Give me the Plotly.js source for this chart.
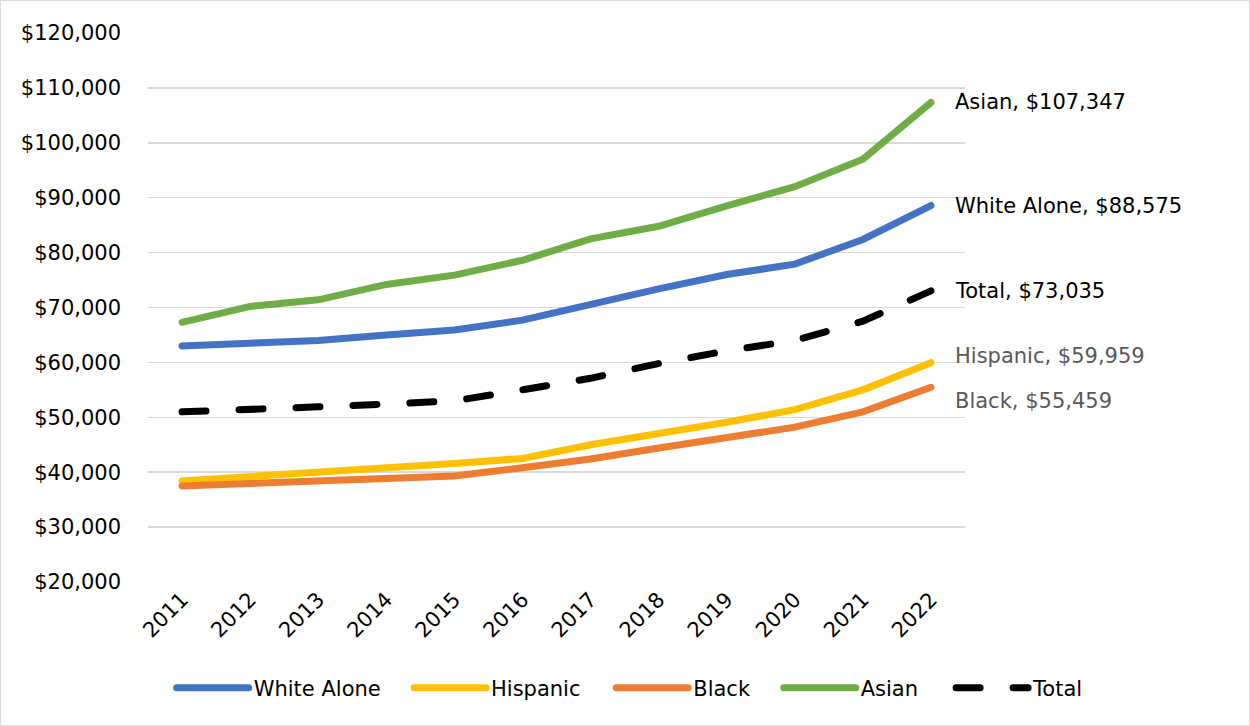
<!DOCTYPE html>
<html>
<head>
<meta charset="utf-8">
<script src="https://cdn.plot.ly/plotly-3.0.1.min.js"></script>
<style>
  html, body { margin: 0; padding: 0; background: #fff; }
  #wrap { position: relative; width: 1250px; height: 726px; }
  #frame { position: absolute; left: 0; top: 0; width: 1248px; height: 724px;
           border: 1px solid #d9d9d9; pointer-events: none; }
  .scatterlayer .js-line, .legendlines path { stroke-linecap: round; }
</style>
</head>
<body>
<div id="wrap">
  <div id="chart"></div>
  <div id="frame"></div>
</div>
<script>
// Median household income by race/ethnicity, 2011-2022
const years = ['2011','2012','2013','2014','2015','2016','2017','2018','2019','2020','2021','2022'];
const whiteAlone = [63000, 63500, 64000, 65000, 65900, 67700, 70600, 73400, 76000, 77900, 82400, 88575];
const hispanic   = [38400, 39100, 39800, 40800, 41600, 42500, 45000, 47000, 49100, 51400, 55000, 59959];
const black      = [37500, 37900, 38200, 38700, 39300, 40800, 42400, 44400, 46200, 48200, 51000, 55459];
const asian      = [67300, 70200, 71400, 74200, 75900, 78600, 82500, 84800, 88500, 92000, 97000, 107347];
const total      = [51000, 51600, 51900, 52400, 53000, 55000, 57100, 59800, 62100, 64000, 67500, 73035];

const seriesNames  = ['White Alone', 'Hispanic', 'Black', 'Asian', 'Total'];
const seriesValues = [whiteAlone, hispanic, black, asian, total];
const seriesColors = ['#4472C4', '#FFC000', '#ED7D31', '#70AD47', '#000000'];
const seriesDash   = ['solid', 'solid', 'solid', 'solid', '24px,33px'];

// end-of-line labels: grey for the two lowest series, nudged apart vertically
const labelColors = ['#000000', '#595959', '#595959', '#000000', '#000000'];
const labelShift  = [0, 7, -14, 0, 0];

// each series gets its own legend box so the entries can be spaced freely
const legendIds = ['legend', 'legend2', 'legend3', 'legend4', 'legend5'];
const legendX   = [0.029, 0.3195, 0.567, 0.772, 0.983];

const FONT = 'DejaVu Sans, Verdana, sans-serif';

const traces = seriesNames.map((name, i) => ({
  type: 'scatter',
  mode: 'lines',
  name: name,
  legend: legendIds[i],
  x: years,
  y: seriesValues[i],
  line: { color: seriesColors[i], width: 7, dash: seriesDash[i] }
}));

const fmt = v => '$' + v.toLocaleString('en-US');

const annotations = seriesNames.map((name, i) => {
  const vals = seriesValues[i];
  const last = vals[vals.length - 1];
  return {
    xref: 'x', yref: 'y',
    x: years.length - 1, y: last,
    text: name + ', ' + fmt(last),
    showarrow: false,
    xanchor: 'left', yanchor: 'middle',
    xshift: 22, yshift: labelShift[i],
    font: { family: FONT, size: 21, color: labelColors[i] }
  };
});

const layout = {
  width: 1250,
  height: 726,
  margin: { l: 148, r: 285, t: 33, b: 144 },
  paper_bgcolor: '#ffffff',
  plot_bgcolor: '#ffffff',
  font: { family: FONT, size: 21, color: '#000000' },
  showlegend: true,
  xaxis: {
    type: 'category',
    range: [-0.5, 11.5],
    showgrid: false, zeroline: false, showline: false, ticks: '',
    tickangle: -45,
    tickfont: { family: FONT, size: 21, color: '#000000' }
  },
  yaxis: {
    range: [20000, 120000],
    dtick: 10000, tick0: 20000,
    tickprefix: '$', tickformat: ',d',
    showgrid: true, gridcolor: '#d9d9d9', gridwidth: 1.5,
    zeroline: false, showline: false, ticks: '',
    ticklabelstandoff: 26,
    tickfont: { family: FONT, size: 21, color: '#000000' }
  },
  annotations: annotations
};

legendIds.forEach((id, i) => {
  layout[id] = {
    orientation: 'h',
    x: legendX[i], xanchor: 'left',
    y: -0.156, yanchor: 'top',
    itemwidth: 72,
    bgcolor: 'rgba(0,0,0,0)',
    font: { family: FONT, size: 21, color: '#000000' }
  };
});

Plotly.newPlot('chart', traces, layout, { displayModeBar: false, staticPlot: true });
</script>
</body>
</html>
